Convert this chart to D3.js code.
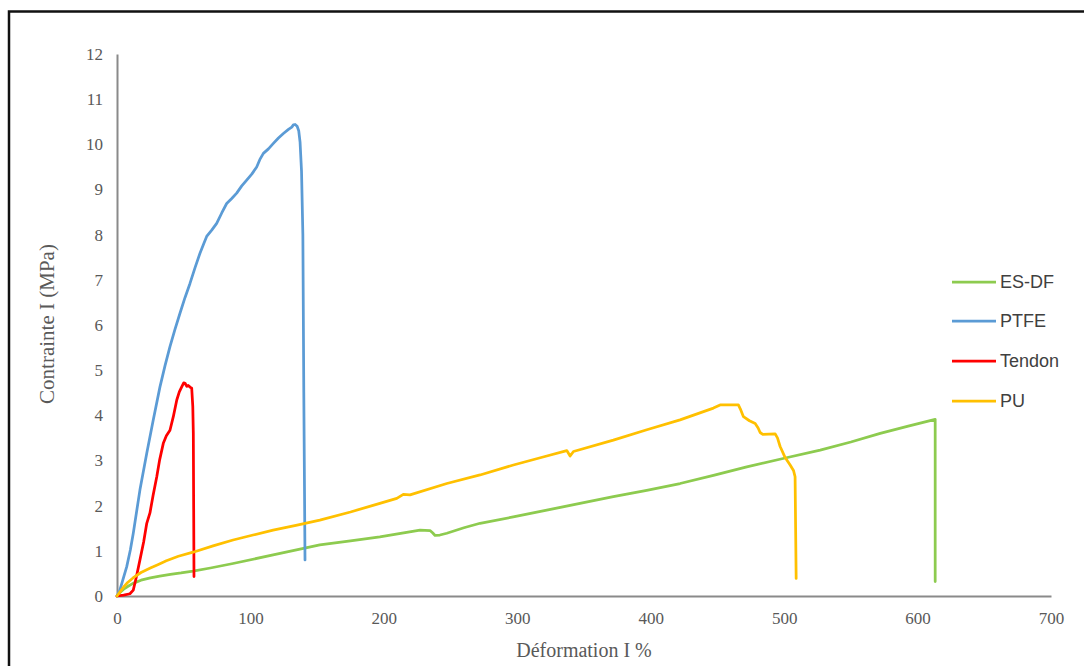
<!DOCTYPE html>
<html><head><meta charset="utf-8">
<script src="https://cdn.jsdelivr.net/npm/d3@7"></script>
<style>html,body{margin:0;padding:0;background:#fff;}svg{display:block;}</style>
</head><body>
<svg id="chart" width="1084" height="666"></svg>
<script>
// ---- data (x = Déformation %, y = Contrainte MPa) ----
const seriesNames = ["ES-DF", "PTFE", "Tendon", "PU"];
const seriesColors = ["#8DCB4F", "#5B9BD5", "#FF0000", "#FFC000"];
const xTicks = [0, 100, 200, 300, 400, 500, 600, 700];
const yTicks = [0,1,2,3,4,5,6,7,8,9,10,11,12];

const esdfX = [0, 2, 5, 8, 12, 18, 25, 32, 40, 48, 57, 70, 87, 117, 152, 175, 197, 227.1, 234.6, 236.5, 238.4, 242, 247.2, 260, 272.1, 297, 322.1, 347, 372.0, 397, 422.0, 447, 472.0, 500, 527.0, 550, 572.0, 593, 613.2, 613.2];
const esdfY = [0, 0.07, 0.15, 0.21, 0.28, 0.35, 0.40, 0.44, 0.48, 0.51, 0.55, 0.62, 0.72, 0.91, 1.13, 1.22, 1.31, 1.46, 1.45, 1.40, 1.34, 1.35, 1.39, 1.51, 1.61, 1.75, 1.90, 2.05, 2.20, 2.34, 2.49, 2.67, 2.86, 3.05, 3.23, 3.41, 3.60, 3.76, 3.91, 0.32];

const ptfeX = [0, 2, 4, 7.3, 10, 12.2, 17.2, 22.3, 27.2, 32.2, 36, 39.7, 43.5, 47.2, 51, 54.7, 58.5, 62.2, 65, 67.2, 71, 74.7, 78.5, 82.2, 86, 89.7, 93.5, 97.2, 101, 104.7, 107, 109.7, 113.5, 117.2, 121, 124.7, 128.5, 131, 132.2, 133.5, 135, 136.2, 137.2, 138.3, 139.3, 140, 140.9];
const ptfeY = [0, 0.12, 0.32, 0.65, 1.02, 1.39, 2.35, 3.16, 3.90, 4.63, 5.10, 5.52, 5.91, 6.26, 6.61, 6.92, 7.27, 7.59, 7.80, 7.96, 8.10, 8.25, 8.48, 8.69, 8.80, 8.92, 9.08, 9.21, 9.34, 9.50, 9.66, 9.80, 9.90, 10.02, 10.14, 10.24, 10.33, 10.38, 10.43, 10.44, 10.40, 10.30, 10.05, 9.40, 8.00, 4.50, 0.80];

const tendonX = [0, 5, 9.7, 12.2, 14.5, 17.2, 20, 22.3, 24.7, 27, 29.8, 32, 34.7, 37, 39.7, 42.2, 44.8, 46.7, 48.5, 50, 51.0, 52.3, 53.4, 55, 56.0, 56.8, 57.2, 57.7];
const tendonY = [0, 0.02, 0.05, 0.13, 0.42, 0.80, 1.20, 1.61, 1.84, 2.22, 2.64, 3.02, 3.38, 3.55, 3.67, 3.97, 4.34, 4.52, 4.63, 4.72, 4.71, 4.64, 4.66, 4.62, 4.60, 4.20, 3.60, 0.43];

const puX = [0, 2, 5, 8, 12, 18, 25, 31, 37, 46, 57, 72, 87, 102, 117, 135, 152, 175, 197, 209.7, 214.6, 219.6, 247.2, 272.1, 297.1, 322.1, 337.1, 339.6, 342.1, 372.0, 397.1, 422.0, 447.0, 452.0, 465.7, 467.5, 469.5, 474, 478.3, 480.5, 482.0, 484, 493.3, 495, 497.0, 500.5, 504.5, 507, 508.2, 508.6, 509.0];
const puY = [0, 0.08, 0.20, 0.30, 0.40, 0.52, 0.62, 0.70, 0.78, 0.88, 0.97, 1.11, 1.24, 1.35, 1.46, 1.57, 1.68, 1.86, 2.05, 2.16, 2.25, 2.24, 2.49, 2.68, 2.90, 3.10, 3.22, 3.10, 3.20, 3.45, 3.68, 3.90, 4.16, 4.23, 4.23, 4.12, 3.97, 3.88, 3.82, 3.72, 3.62, 3.58, 3.59, 3.50, 3.31, 3.08, 2.90, 2.78, 2.64, 1.50, 0.39];

const seriesX = [esdfX, ptfeX, tendonX, puX];
const seriesY = [esdfY, ptfeY, tendonY, puY];

// ---- layout ----
const svg = d3.select("#chart");
const plotLeft = 117, plotRight = 1051, plotTop = 54, plotBottom = 596;
const x = d3.scaleLinear().domain([0, 700]).range([plotLeft, plotRight]);
const y = d3.scaleLinear().domain([0, 12]).range([plotBottom, plotTop]);

// frame
svg.append("rect").attr("x", 9).attr("y", 11.5).attr("width", 1200).attr("height", 800)
  .attr("fill", "none").attr("stroke", "#111").attr("stroke-width", 2.5);

const tickFont = "'Liberation Serif', 'Times New Roman', serif";

// axes
const xAxis = svg.append("g").attr("transform", `translate(0,${plotBottom})`)
  .call(d3.axisBottom(x).tickValues(xTicks).tickSize(0).tickPadding(16));
const yAxis = svg.append("g").attr("transform", `translate(${plotLeft},0)`)
  .call(d3.axisLeft(y).tickValues(yTicks).tickSize(0).tickPadding(14));
[xAxis, yAxis].forEach(g => {
  g.select(".domain").attr("stroke", "#8a8a8a").attr("stroke-width", 2);
  g.selectAll("text").attr("font-family", tickFont).attr("font-size", 17).attr("fill", "#595959");
});

// axis titles
svg.append("text").attr("x", (plotLeft + plotRight) / 2).attr("y", 657)
  .attr("text-anchor", "middle").attr("font-family", tickFont).attr("font-size", 20)
  .attr("fill", "#595959").text("Déformation I %");
svg.append("text").attr("transform", "translate(54,324) rotate(-90)")
  .attr("text-anchor", "middle").attr("font-family", tickFont).attr("font-size", 21)
  .attr("fill", "#595959").text("Contrainte I (MPa)");

// lines
const line = d3.line().x(d => x(d[0])).y(d => y(d[1]));
seriesNames.forEach((name, i) => {
  const pts = seriesX[i].map((v, j) => [v, seriesY[i][j]]);
  svg.append("path").datum(pts).attr("d", line)
    .attr("fill", "none").attr("stroke", seriesColors[i]).attr("stroke-width", 2.75)
    .attr("stroke-linejoin", "round").attr("stroke-linecap", "round");
});

// legend
const legendY = [282, 321, 361, 401];
seriesNames.forEach((name, i) => {
  svg.append("line").attr("x1", 952).attr("x2", 996).attr("y1", legendY[i]).attr("y2", legendY[i])
    .attr("stroke", seriesColors[i]).attr("stroke-width", 2.75);
  svg.append("text").attr("x", 1000).attr("y", legendY[i]).attr("dy", "0.35em")
    .attr("font-family", "'Liberation Sans', Arial, sans-serif").attr("font-size", 18)
    .attr("fill", "#404040").text(name);
});
</script>
</body></html>
